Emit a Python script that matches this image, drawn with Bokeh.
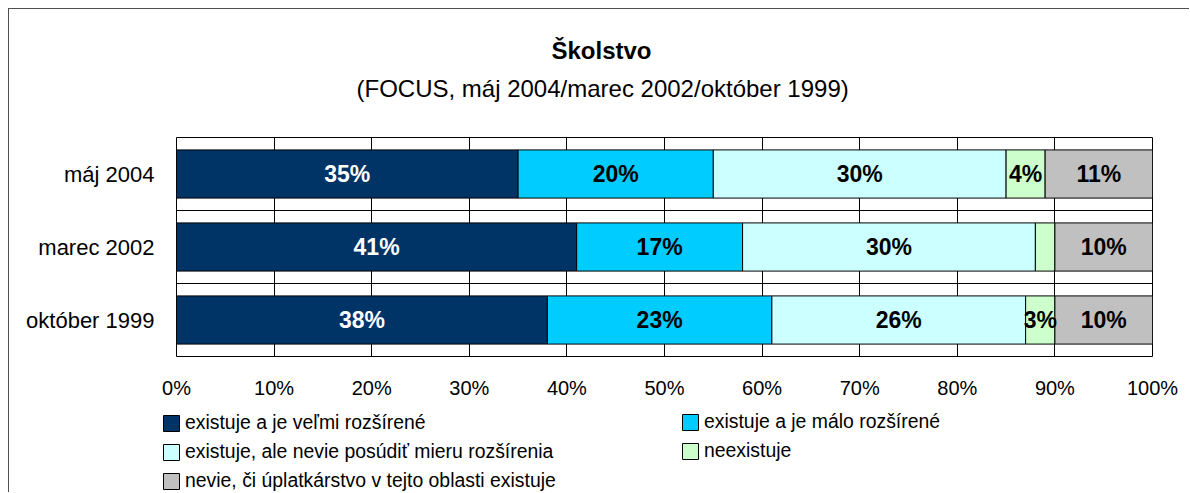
from bokeh.plotting import figure
from bokeh.layouts import column
from bokeh.models import (ColumnDataSource, FactorRange, Range1d, Legend, LegendItem,
                          Title, Span, NumeralTickFormatter, FixedTicker)
from bokeh.core.properties import value
from bokeh.embed import file_html
from bokeh.resources import INLINE

# ---------------- data ----------------
title = "Školstvo"
subtitle = "(FOCUS, máj 2004/marec 2002/október 1999)"
periods = ["október 1999", "marec 2002", "máj 2004"]          # bottom -> top
series = ["existuje a je veľmi rozšírené",
          "existuje a je málo rozšírené",
          "existuje, ale nevie posúdiť mieru rozšírenia",
          "neexistuje",
          "nevie, či úplatkárstvo v tejto oblasti existuje"]
velmi = [38, 41, 35]
malo = [23, 17, 20]
neposudi = [26, 30, 30]
neexistuje = [3, 2, 4]
nevie = [10, 10, 11]
hidden_labels = [("marec 2002", 3)]   # (period, series index) without a value label
x_ticks = [0, 10, 20, 30, 40, 50, 60, 70, 80, 90, 100]
colors = ["#003366", "#00CCFF", "#CCFFFF", "#CCFFCC", "#C0C0C0"]
label_colors = ["white", "black", "black", "black", "black"]

values = [velmi, malo, neposudi, neexistuje, nevie]
keys = ["s0", "s1", "s2", "s3", "s4"]

data = {"period": periods}
for k, v in zip(keys, values):
    data[k] = [x / 100 for x in v]
source = ColumnDataSource(data)

FONT = "Liberation Sans"

# ---------------- main chart ----------------
p = figure(width=1181, height=402,
           y_range=FactorRange(factors=periods, range_padding=0),
           x_range=Range1d(0, 1),
           min_border_left=167, min_border_right=38,
           min_border_top=128, min_border_bottom=55,
           output_backend="svg", toolbar_location=None)
p.title = None
p.background_fill_color = "white"
p.border_fill_color = "white"
p.styles = {"border-left": "1px solid #505050", "border-top": "1px solid #505050"}

renderers = p.hbar_stack(keys, y="period", height=0.66, color=colors,
                         line_color="black", line_width=1, source=source)

# value labels inside bars
lx, ly, lt, lc = [], [], [], []
for i, per in enumerate(periods):
    left = 0.0
    for j, v in enumerate(values):
        w = v[i] / 100
        if (per, j) not in hidden_labels:
            lx.append(left + w / 2)
            ly.append(per)
            lt.append(f"{v[i]}%")
            lc.append(label_colors[j])
        left += w
lab_src = ColumnDataSource(dict(x=lx, y=ly, text=lt, color=lc))
p.text(x="x", y="y", text="text", source=lab_src, text_color="color",
       text_align="center", text_baseline="middle",
       text_font=value("'Liberation Sans Narrow', 'Arial Narrow', 'Liberation Sans', sans-serif"),
       text_font_style="bold", text_font_size="23px")

# axes
p.xaxis.ticker = FixedTicker(ticks=[t / 100 for t in x_ticks])
p.xaxis.formatter = NumeralTickFormatter(format="0%")
for ax in (p.xaxis[0], p.yaxis[0]):
    ax.axis_line_color = None
    ax.major_tick_line_color = None
    ax.minor_tick_line_color = None
    ax.major_tick_out = 0
    ax.major_tick_in = 0
    ax.major_label_text_font = FONT
    ax.major_label_text_color = "black"
p.xaxis.major_label_text_font_size = "20px"
p.xaxis.major_label_standoff = 20
p.yaxis.major_label_text_font_size = "22px"
p.yaxis.major_label_standoff = 22

p.xgrid.ticker = FixedTicker(ticks=[t / 100 for t in x_ticks])
p.xgrid.grid_line_color = "black"
p.xgrid.grid_line_width = 1
p.ygrid.grid_line_color = None
for loc in (1, 2):
    p.add_layout(Span(location=loc, dimension="width", line_color="black", line_width=1))

p.outline_line_color = "black"
p.outline_line_width = 1
p.outline_line_alpha = 1

# titles (stacked above the frame: closest first)
p.add_layout(Title(text=" ", text_font_size="8px", standoff=19), "above")
p.add_layout(Title(text=subtitle, align="left", offset=180, vertical_align="middle",
                   text_font=FONT, text_font_style="normal", text_font_size="24px",
                   text_color="black", standoff=9), "above")
p.add_layout(Title(text=title, align="left", offset=375, vertical_align="middle",
                   text_font=FONT, text_font_style="bold", text_font_size="24px",
                   text_color="black", standoff=9), "above")
p.add_layout(Title(text=" ", text_font_size="8px", standoff=11), "above")

# ---------------- legend strip ----------------
# same stacked values, placed far outside the visible ranges: only legend glyphs show
pl_data = dict(data)
pl_data["pos"] = list(range(len(periods)))
pl_source = ColumnDataSource(pl_data)
pl = figure(width=1181, height=82, x_range=Range1d(100, 101), y_range=Range1d(100, 101),
            x_axis_type=None, y_axis_type=None,
            min_border_left=0, min_border_right=0, min_border_top=0, min_border_bottom=0,
            output_backend="svg", toolbar_location=None)
pl.title = None
pl.outline_line_color = None
pl.background_fill_color = "white"
pl.border_fill_color = "white"
pl.styles = {"border-left": "1px solid #505050"}
pl.xgrid.visible = False
pl.ygrid.visible = False
for fig in (p, pl):
    try:
        fig.frame_align = False
    except Exception:
        pass
legend_glyphs = pl.hbar_stack(keys, y="pos", height=0.66, color=colors,
                              line_color="black", line_width=1, source=pl_source)


def make_legend(idx, loc):
    items = [LegendItem(label=series[i], renderers=[legend_glyphs[i]]) for i in idx]
    return Legend(items=items, location=loc, orientation="vertical",
                  padding=0, margin=0, border_line_color=None,
                  background_fill_alpha=0, glyph_width=20, glyph_height=20,
                  label_standoff=4, spacing=6, label_height=20,
                  label_text_font=FONT, label_text_font_size="19.4px",
                  label_text_color="black")


pl.add_layout(make_legend([0, 2, 4], (152, 0)))
pl.add_layout(make_legend([1, 3], (671, 30)))

layout = column(p, pl, spacing=0, styles={"margin-left": "8px", "margin-top": "8px"})

open("out.html", "w").write(file_html(layout, INLINE))
